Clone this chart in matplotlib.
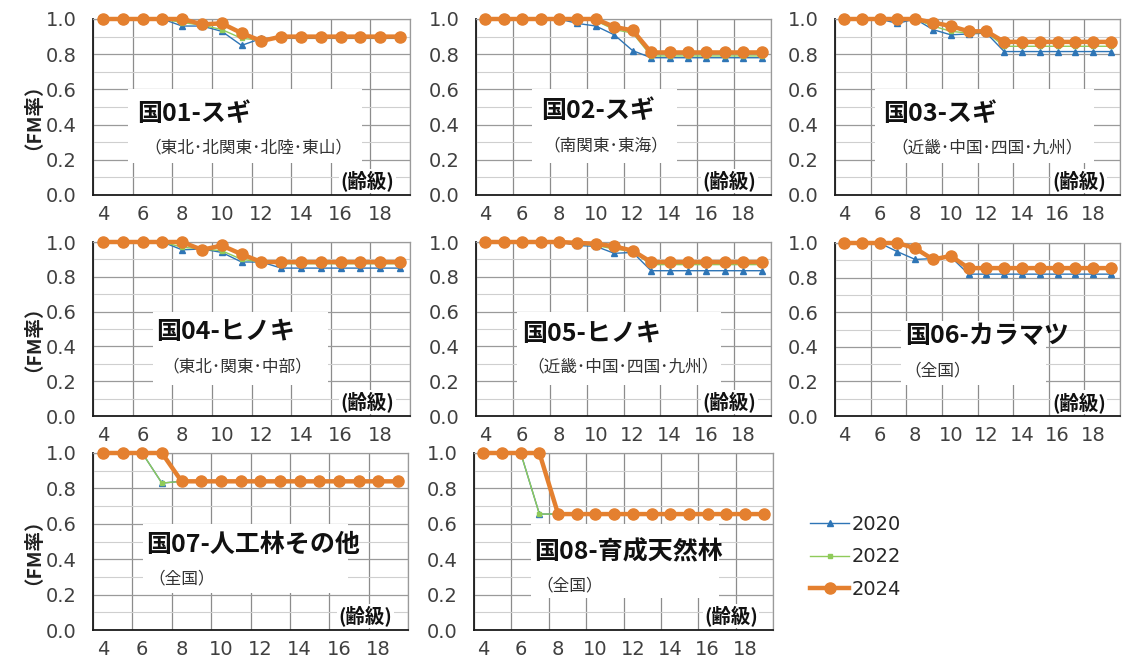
import numpy as np
import matplotlib
matplotlib.use("Agg")
import matplotlib.pyplot as plt
from matplotlib.patches import Rectangle
from matplotlib.ticker import MultipleLocator, FixedLocator

JP = ["Noto Sans CJK JP", "DejaVu Sans"]

# age classes on the x axis
age = np.arange(4, 20)
xticks = [4, 6, 8, 10, 12, 14, 16, 18]

# FM rate by age class, one list per panel and survey year
p01_2020 = [1, 1, 1, 1, 0.96, 0.96, 0.93, 0.85, 0.89] + [0.89] * 7
p01_2022 = [1, 1, 1, 1, 0.98, 0.965, 0.94, 0.89, 0.88] + [0.895] * 7
p01_2024 = [1, 1, 1, 1, 1, 0.97, 0.975, 0.92, 0.875] + [0.90] * 7

p02_2020 = [1, 1, 1, 1, 1, 0.975, 0.96, 0.91, 0.82] + [0.78] * 7
p02_2022 = [1, 1, 1, 1, 1, 1, 0.99, 0.94, 0.92] + [0.79] * 7
p02_2024 = [1, 1, 1, 1, 1, 1, 1.0, 0.955, 0.935] + [0.81] * 7

p03_2020 = [1, 1, 1, 0.975, 1, 0.94, 0.91, 0.915, 0.92] + [0.815] * 7
p03_2022 = [1, 1, 1, 1, 1, 0.96, 0.93, 0.92, 0.925] + [0.845] * 7
p03_2024 = [1, 1, 1, 1, 1, 0.98, 0.96, 0.93, 0.93] + [0.87] * 7

p04_2020 = [1, 1, 1, 1, 0.955, 0.96, 0.94, 0.885, 0.885] + [0.85] * 7
p04_2022 = [1, 1, 1, 1, 0.97, 0.96, 0.95, 0.90, 0.885] + [0.875] * 7
p04_2024 = [1, 1, 1, 1, 1, 0.955, 0.98, 0.93, 0.885] + [0.885] * 7

p05_2020 = [1, 1, 1, 1, 1, 0.98, 0.975, 0.935, 0.94] + [0.835] * 7
p05_2022 = [1, 1, 1, 1, 1, 0.99, 0.98, 0.96, 0.945] + [0.87] * 7
p05_2024 = [1, 1, 1, 1, 1, 0.995, 0.99, 0.975, 0.95] + [0.885] * 7

p06_2020 = [1, 1, 1, 0.95, 0.905, 0.91, 0.92] + [0.82] * 9
p06_2022 = [1, 1, 1, 1, 0.96, 0.905, 0.92] + [0.85] * 9
p06_2024 = [1, 1, 1, 1, 0.97, 0.905, 0.925] + [0.855] * 9

p07_2020 = [1, 1, 1, 0.83] + [0.84] * 12
p07_2022 = [1, 1, 1, 0.83] + [0.84] * 12
p07_2024 = [1, 1, 1, 1] + [0.84] * 12

p08_2020 = [1, 1, 1, 0.655] + [0.655] * 12
p08_2022 = [1, 1, 1, 0.655] + [0.655] * 12
p08_2024 = [1, 1, 1, 1] + [0.655] * 12

titles = ["国01-スギ", "国02-スギ", "国03-スギ", "国04-ヒノキ",
          "国05-ヒノキ", "国06-カラマツ", "国07-人工林その他", "国08-育成天然林"]
regions = ["（東北･北関東･北陸･東山）", "（南関東･東海）", "（近畿･中国･四国･九州）",
           "（東北･関東･中部）", "（近畿･中国･四国･九州）", "（全国）", "（全国）", "（全国）"]
series = [
    (p01_2020, p01_2022, p01_2024), (p02_2020, p02_2022, p02_2024),
    (p03_2020, p03_2022, p03_2024), (p04_2020, p04_2022, p04_2024),
    (p05_2020, p05_2022, p05_2024), (p06_2020, p06_2022, p06_2024),
    (p07_2020, p07_2022, p07_2024), (p08_2020, p08_2022, p08_2024),
]
years = ["2020", "2022", "2024"]

# axes rectangles in pixels: left, top, right, bottom
W, H = 1128, 657
boxes_px = [
    (93, 19, 410, 195), (476, 19, 771, 195), (835, 19, 1120, 195),
    (93, 242, 410, 416), (476, 242, 771, 416), (835, 243, 1120, 416),
    (93, 453, 408, 630), (474, 453, 773, 630),
]
# white label panel (x0, x1, y0, y1 in axes fraction), title x, title y, region x, region y
label_layout = [
    (0.11, 0.85, 0.18, 0.60, 0.14, 0.46, 0.49, 0.27),
    (0.19, 0.68, 0.18, 0.60, 0.22, 0.48, 0.44, 0.28),
    (0.14, 0.91, 0.18, 0.60, 0.17, 0.46, 0.535, 0.265),
    (0.19, 0.74, 0.18, 0.60, 0.20, 0.48, 0.455, 0.28),
    (0.14, 0.83, 0.18, 0.60, 0.155, 0.47, 0.50, 0.28),
    (0.23, 0.74, 0.18, 0.55, 0.245, 0.46, 0.36, 0.26),
    (0.16, 0.81, 0.21, 0.60, 0.17, 0.48, 0.28, 0.29),
    (0.19, 0.82, 0.18, 0.60, 0.20, 0.44, 0.32, 0.25),
]

c2020 = "#2E75B6"
c2022 = "#8FCB5A"
c2024 = "#E4802F"

fig = plt.figure(figsize=(W / 100, H / 100), dpi=100)

handles = []
for i, (l, t, r, b) in enumerate(boxes_px):
    ax = fig.add_axes([l / W, 1 - b / H, (r - l) / W, (b - t) / H])
    ax.set_xlim(3.5, 19.5)
    ax.set_ylim(0, 1.0)

    ax.yaxis.set_minor_locator(MultipleLocator(0.1))
    ax.xaxis.set_major_locator(FixedLocator(xticks))
    ax.xaxis.set_minor_locator(FixedLocator(np.arange(3.5, 20, 2)))
    ax.set_xticklabels([str(v) for v in xticks])
    ax.set_yticks(np.arange(0, 1.01, 0.2))
    ax.set_yticklabels([f"{v:.1f}" for v in np.arange(0, 1.01, 0.2)])
    ax.tick_params(which="both", length=0, labelsize=14, colors="#404040", pad=7)
    ax.tick_params(axis="y", pad=12)

    ax.grid(which="minor", axis="x", color="#8C8C8C", lw=0.9)
    ax.grid(which="major", axis="y", color="#9A9A9A", lw=0.9)
    ax.grid(which="minor", axis="y", color="#CFCFCF", lw=0.8)
    ax.set_axisbelow(True)
    for s in ["top", "right"]:
        ax.spines[s].set_color("#9A9A9A")
        ax.spines[s].set_linewidth(0.9)
    for s in ["left", "bottom"]:
        ax.spines[s].set_color("#1A1A1A")
        ax.spines[s].set_linewidth(1.3)

    x0, x1, y0, y1, tx, ty, rx, ry = label_layout[i]
    ax.add_patch(Rectangle((x0, y0), x1 - x0, y1 - y0, transform=ax.transAxes,
                           fc="white", ec="none", zorder=1.5))
    ax.text(tx, ty, titles[i], transform=ax.transAxes, family=JP, fontsize=18,
            fontweight="bold", color="#111111", ha="left", va="center", zorder=6)
    ax.text(rx, ry, regions[i], transform=ax.transAxes, family=JP, fontsize=12,
            color="#333333", ha="center", va="center", zorder=6)
    ax.text(0.95, 0.08, "(齢級)", transform=ax.transAxes, family=JP, fontsize=14,
            fontweight="bold", color="#111111", ha="right", va="center", zorder=6,
            bbox=dict(fc="white", ec="none", pad=1))

    s20, s22, s24 = series[i]
    h1, = ax.plot(age, s20, color=c2020, lw=1.0, marker="^", ms=4, clip_on=False, zorder=3)
    h2, = ax.plot(age, s22, color=c2022, lw=1.0, marker="s", ms=3, clip_on=False, zorder=3.5)
    h3, = ax.plot(age, s24, color=c2024, lw=3.2, marker="o", ms=8, clip_on=False, zorder=4)
    handles = [h1, h2, h3]

    if i in (0, 3, 6):
        ax.set_ylabel("（FM率）", family=JP, fontsize=14, fontweight="bold",
                      color="#222222")
        ax.yaxis.set_label_coords(-0.19, 0.5)

fig.legend(handles, years, loc="upper left", bbox_to_anchor=(0.703, 0.243),
           frameon=False, fontsize=14, handlelength=2.0, handletextpad=0.1,
           labelspacing=0.7, labelcolor="#262626")

fig.savefig("out.png", dpi=100, facecolor="white")
